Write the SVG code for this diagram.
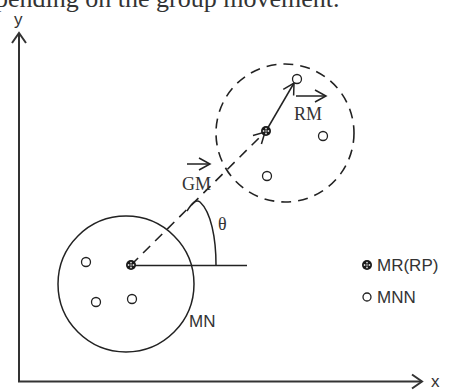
<svg xmlns="http://www.w3.org/2000/svg" width="464" height="392" viewBox="0 0 464 392">
  <style>
    .line { fill: none; stroke: #222; stroke-width: 1.5; }
    .axis { fill: none; stroke: #333; stroke-width: 2; }
    .dash { fill: none; stroke: #222; stroke-width: 1.6; stroke-dasharray: 10 7; }
    .mnn { fill: #fff; stroke: #222; stroke-width: 1.3; }
    .serif { font-family: "Liberation Serif", "Times New Roman", serif; fill: #333; }
    .sans { font-family: "Liberation Sans", Arial, sans-serif; fill: #333; }
  </style>
  <defs>
    <marker id="open" markerUnits="userSpaceOnUse" markerWidth="14" markerHeight="14" refX="11" refY="6" orient="auto" overflow="visible">
      <path d="M0,0 L11,6 L0,12" fill="none" stroke="#222" stroke-width="1.5" stroke-dasharray="none"/>
    </marker>
    <marker id="axisHead" markerUnits="userSpaceOnUse" markerWidth="14" markerHeight="16" refX="10" refY="7" orient="auto" overflow="visible">
      <path d="M0,0 L10,7 L0,14" fill="none" stroke="#333" stroke-width="2"/>
    </marker>
    <!-- router symbol: dark disc with a ring of light dots -->
    <g id="mr">
      <circle r="5" fill="#1a1a1a"/>
      <circle cx="0" cy="-2.4" r="0.9" fill="#ddd"/>
      <circle cx="0" cy="2.4" r="0.9" fill="#ddd"/>
      <circle cx="-2.4" cy="0" r="0.9" fill="#ddd"/>
      <circle cx="2.4" cy="0" r="0.9" fill="#ddd"/>
      <circle cx="0" cy="0" r="0.8" fill="#ddd"/>
    </g>
  </defs>

  <rect width="464" height="392" fill="#fff"/>

  <!-- caption line above the figure -->
  <text class="serif" x="-5" y="7" font-size="26" fill="#111">pending on the group movement.</text>

  <!-- axes -->
  <g id="axes">
    <polyline class="axis" points="19,33 19,381.5 422,381.5" marker-end="url(#axisHead)"/>
    <line class="axis" x1="19" y1="381.5" x2="19" y2="33" marker-end="url(#axisHead)"/>
    <text class="sans" x="14" y="25" font-size="17">y</text>
    <text class="sans" x="431" y="387" font-size="17">x</text>
  </g>

  <!-- group circles -->
  <g id="group-mn">
    <circle class="line" cx="126" cy="284" r="68"/>
    <text class="sans" x="189" y="327" font-size="17">MN</text>
  </g>
  <g id="group-moved">
    <circle class="dash" cx="285" cy="133" r="69"/>
  </g>

  <!-- connectors -->
  <g id="connectors">
    <line class="dash" x1="131" y1="265" x2="265" y2="132" marker-end="url(#open)"/>
    <line class="line" x1="131" y1="265.5" x2="247" y2="265.5"/>
    <line class="line" x1="266" y1="131" x2="294" y2="83" marker-end="url(#open)"/>
    <path class="line" d="M187,211 C192,203 196,199 200,202 C211,212 216,238 216,265"/>
  </g>

  <!-- labels -->
  <g id="label-gm">
    <line class="line" x1="187" y1="164" x2="210" y2="164" marker-end="url(#open)"/>
    <text class="serif" x="182" y="190" font-size="18">GM</text>
  </g>
  <g id="label-rm">
    <line class="line" x1="296" y1="96" x2="326" y2="96" marker-end="url(#open)"/>
    <text class="serif" x="294" y="120" font-size="18">RM</text>
  </g>
  <text id="label-theta" class="serif" x="218" y="230" font-size="18">θ</text>

  <!-- routers -->
  <g id="mr-lower"><use href="#mr" x="131" y="265"/></g>
  <g id="mr-upper"><use href="#mr" x="266" y="131"/></g>

  <!-- nodes in the original group -->
  <g id="mnn-lower">
    <circle class="mnn" cx="86" cy="262" r="4.5"/>
    <circle class="mnn" cx="96" cy="302" r="4.5"/>
    <circle class="mnn" cx="132" cy="299" r="4.5"/>
  </g>
  <!-- nodes in the moved group -->
  <g id="mnn-upper">
    <circle class="mnn" cx="297" cy="79" r="4.5"/>
    <circle class="mnn" cx="323" cy="136" r="4.5"/>
    <circle class="mnn" cx="267" cy="176" r="4.5"/>
  </g>

  <!-- legend -->
  <g id="legend">
    <use href="#mr" x="367" y="265"/>
    <text class="sans" x="377" y="271" font-size="17">MR(RP)</text>
    <circle class="mnn" cx="367" cy="297" r="4"/>
    <text class="sans" x="377" y="303" font-size="17">MNN</text>
  </g>
</svg>
